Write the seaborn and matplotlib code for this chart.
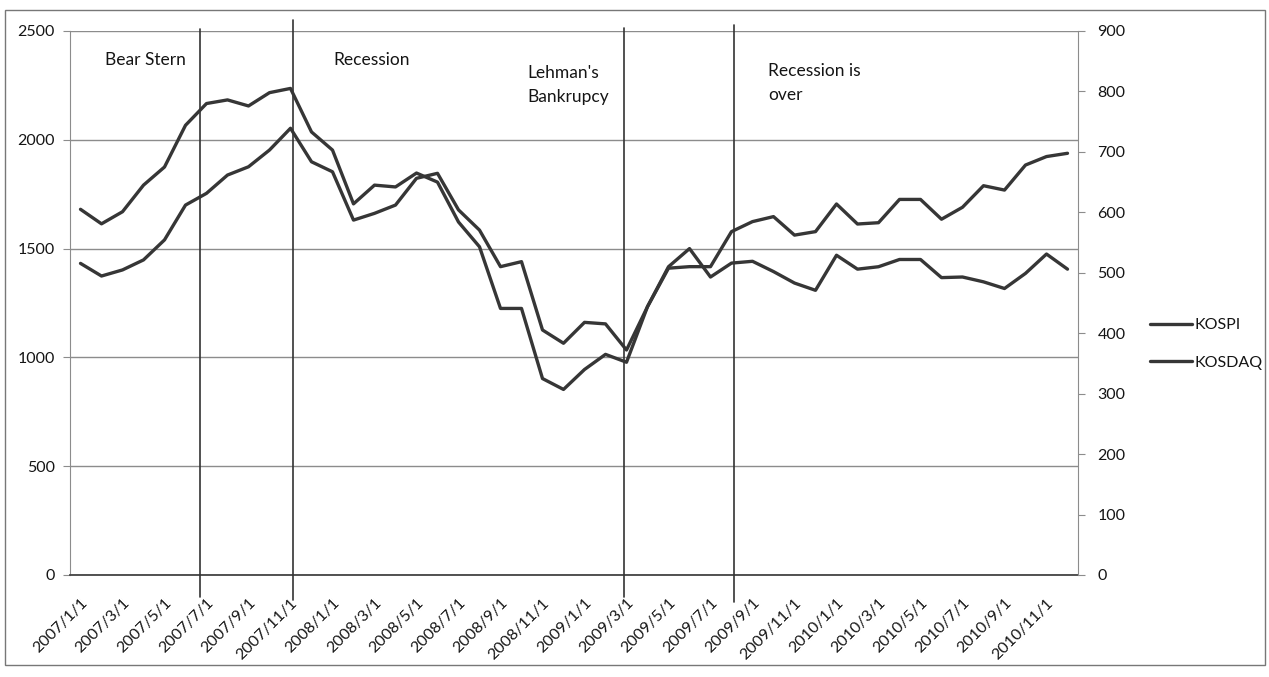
import matplotlib
matplotlib.use("Agg")
import matplotlib.pyplot as plt
import matplotlib.transforms as mtrans
from matplotlib.patches import Rectangle
from matplotlib.lines import Line2D
import seaborn as sns
import pandas as pd
import numpy as np

# ---- data -------------------------------------------------------------
months = [f"{y}/{m}/1" for y in range(2007, 2011) for m in range(1, 13)]

kospi = [1432, 1374, 1402, 1448, 1540, 1700, 1754, 1838, 1876, 1953, 2053, 1899,
         1853, 1631, 1662, 1700, 1823, 1846, 1678, 1585, 1417, 1440, 1126, 1065,
         1161, 1154, 1034, 1233, 1410, 1417, 1417, 1578, 1624, 1647, 1562, 1578,
         1705, 1613, 1619, 1726, 1726, 1635, 1690, 1789, 1769, 1884, 1923, 1938]

kosdaq = [605, 581, 601, 645, 675, 744, 780, 786, 776, 798, 805, 733,
          703, 614, 645, 642, 665, 650, 584, 543, 441, 441, 325, 307,
          340, 365, 352, 444, 510, 540, 493, 516, 519, 502, 483, 471,
          529, 506, 510, 522, 522, 492, 493, 485, 474, 499, 531, 506]

left_ticks = [0, 500, 1000, 1500, 2000, 2500]
right_ticks = [0, 100, 200, 300, 400, 500, 600, 700, 800, 900]

event_x = [5.69, 10.1, 25.88, 31.12]
event_top = [1.004, 1.020, 1.006, 1.011]
event_bottom = [-0.040, -0.046, -0.040, -0.050]

notes = ["Bear Stern", "Recession", "Lehman's\nBankrupcy", "Recession is\nover"]
note_px = [(105, 60), (333, 60), (527, 85), (768, 83)]

# ---- style -------------------------------------------------------------
sns.set_style("white")
plt.rcParams['font.family'] = ['Lato', 'DejaVu Sans']
FS = 11.5
LINE = '#363636'
GRID = '#8c8c8c'
TXT = '#151515'

W, H = 1269, 677
fig = plt.figure(figsize=(W / 100, H / 100), dpi=100)
ax = fig.add_axes([70 / W, 1 - 575 / H, (1078 - 70) / W, 544 / H])
ax2 = ax.twinx()

df = pd.DataFrame({'idx': np.arange(len(months)), 'month': months,
                   'KOSPI': kospi, 'KOSDAQ': kosdaq})

sns.lineplot(data=df, x='idx', y='KOSPI', ax=ax, color=LINE, lw=2.4, legend=False)
sns.lineplot(data=df, x='idx', y='KOSDAQ', ax=ax2, color=LINE, lw=2.4, legend=False)

ax.set_xlim(-0.5, len(months) - 0.5)
ax.set_ylim(0, 2500)
ax2.set_ylim(0, 900)
ax.set_yticks(left_ticks)
ax2.set_yticks(right_ticks)
ax.set_yticklabels([str(t) for t in left_ticks], fontsize=FS, color=TXT)
ax2.set_yticklabels([str(t) for t in right_ticks], fontsize=FS, color=TXT)

ax.yaxis.grid(True, color=GRID, lw=1.0)
ax.xaxis.grid(False)
ax2.grid(False)
ax.set_axisbelow(True)

ax.set_xticks(np.arange(0, len(months), 2))
ax.set_xticklabels(months[::2], rotation=45, ha='right', va='top',
                   rotation_mode='anchor', fontsize=FS, color=TXT)
ax.set_xticks(np.arange(-0.5, len(months), 2), minor=True)
ax.tick_params(axis='x', which='major', length=0, pad=15)
ax.tick_params(axis='x', which='minor', length=5, direction='out', color='#555555', width=1)
ax.tick_params(axis='y', which='major', length=5, direction='out', color=GRID, pad=6)
ax2.tick_params(axis='y', which='major', length=5, direction='out', color=GRID, pad=9)

ax.set_xlabel('')
ax.set_ylabel('')
ax2.set_ylabel('')

for s in ['top', 'right']:
    ax.spines[s].set_visible(False)
for s in ['top', 'left', 'bottom']:
    ax2.spines[s].set_visible(False)
ax.spines['left'].set_color(GRID)
ax.spines['bottom'].set_color('#444444')
ax.spines['bottom'].set_linewidth(1.3)
ax2.spines['right'].set_color(GRID)

# event dividers
trans = mtrans.blended_transform_factory(ax.transData, ax.transAxes)
for xv, t, b in zip(event_x, event_top, event_bottom):
    ax.plot([xv, xv], [b, t], transform=trans, color='#333333', lw=1.2,
            clip_on=False, zorder=3)

for txt, (px, py) in zip(notes, note_px):
    fig.text(px / W, 1 - py / H, txt, ha='left', va='center', fontsize=FS + 1,
             color=TXT, linespacing=1.55)

handles = [Line2D([], [], color=LINE, lw=2.4), Line2D([], [], color=LINE, lw=2.4)]
fig.legend(handles, ['KOSPI', 'KOSDAQ'], loc='center left',
           bbox_to_anchor=(1136 / W, 1 - 344 / H), frameon=False,
           handlelength=2.6, handletextpad=0.15, labelspacing=1.45,
           fontsize=FS, labelcolor=TXT)

fig.add_artist(Rectangle((5 / W, 1 - 665 / H), 1260 / W, 655 / H,
                         transform=fig.transFigure, fill=False,
                         ec='#777777', lw=1.0))

fig.savefig('out.png', dpi=100, facecolor='white')
